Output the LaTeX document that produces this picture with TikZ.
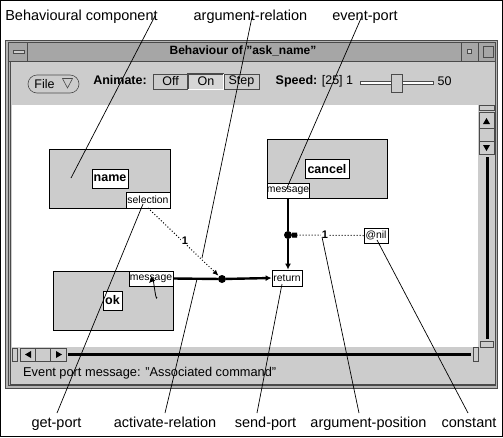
\documentclass[tikz,border=0pt]{standalone}
\usepackage{fontspec}
\setmainfont{Liberation Sans}
\usetikzlibrary{arrows.meta}
\definecolor{panel}{HTML}{CCCCCC}
\definecolor{titlegray}{HTML}{A6A6A6}
\definecolor{framegray}{HTML}{B4B4B4}
\definecolor{darkedge}{HTML}{4A4A4A}
\begin{document}
\begin{tikzpicture}[x=1pt,y=-1pt,
  lbl/.style={font=\fontsize{14.5}{16}\selectfont, inner sep=0pt, anchor=base},
  ann/.style={line width=0.7pt},
  comp/.style={draw=black, fill=panel, line width=1pt, inner sep=0pt},
  clabel/.style={draw=black, fill=white, line width=0.8pt, inner sep=0pt, font=\fontsize{12.5}{14}\bfseries\selectfont},
  port/.style={draw=black, fill=white, line width=0.8pt, inner sep=0pt, font=\fontsize{10.4}{12}\selectfont},
  flow/.style={line width=2.4pt},
  dots/.style={line width=1pt, dash pattern=on 1pt off 2pt},
  junction/.style={circle, fill=black, inner sep=0pt, minimum size=8pt},
  num/.style={font=\fontsize{11}{12}\bfseries\selectfont, inner sep=0.5pt, fill=white},
  sbox/.style={draw=darkedge, fill=panel, line width=0.6pt},
  btn/.style={draw=darkedge, fill=panel, line width=0.6pt, inner sep=0pt, minimum height=15pt, font=\fontsize{12.5}{14}\selectfont},
  tb/.style={font=\fontsize{12.5}{14}\selectfont, inner sep=0pt},
  tbb/.style={font=\fontsize{12.5}{14}\bfseries\selectfont, inner sep=0pt},
  tip/.style={-{Latex[length=6pt,width=6pt]}}
]
\useasboundingbox (0,0) rectangle (503,437);
\fill[white] (0,0) rectangle (503,437);
\draw[line width=1pt] (0.5,0.5) rectangle (502.5,436.5);

% window frame
\draw[fill=framegray, draw=darkedge, line width=0.8pt] (5.5,40.5) rectangle (497.5,388.5);
\draw[draw=darkedge, line width=0.6pt] (8.5,42.5) rectangle (495.5,385.5);
\draw[fill=panel, draw=darkedge, line width=0.6pt] (10.5,61) rectangle (495.5,384);
% title bar
\draw[fill=titlegray, draw=darkedge, line width=0.6pt] (8.5,42.5) rectangle (495.5,61);
\draw[fill=titlegray, draw=darkedge, line width=0.6pt] (8.5,42.5) rectangle (27,61);
\draw[fill=panel, draw=darkedge, line width=0.5pt] (13.5,50) rectangle (24,53);
\draw[fill=titlegray, draw=darkedge, line width=0.6pt] (461,42.5) rectangle (478.5,61);
\draw[fill=panel, draw=darkedge, line width=0.5pt] (467.5,49.5) rectangle (471.5,53.5);
\draw[fill=titlegray, draw=darkedge, line width=0.6pt] (478.5,42.5) rectangle (495.5,61);
\draw[fill=titlegray, draw=darkedge, line width=0.6pt] (483.5,46.5) rectangle (493.5,57.5);
\node[font=\fontsize{12}{14}\bfseries\selectfont, inner sep=0pt] (title) at (243,51) {Behaviour of "ask\_name"};

% toolbar
\node[draw=darkedge, fill=panel, line width=0.6pt, rounded corners=9pt, minimum width=51pt, minimum height=18pt, inner sep=0pt] (file) at (53.5,84) {};
\node[tb] (filet) at (44.5,84) {File};
\draw[darkedge, line width=0.6pt] (62.5,78.5) -- (72.5,78.5) -- (67.5,88) -- cycle;
\node[tbb] (anim) at (120,80.5) {Animate:};
\node[btn, minimum width=35pt] (off) at (170.5,81.5) {Off};
\node[btn, minimum width=36pt, fill=panel!80!white] (on) at (206,81.5) {On};
\draw[darkedge, line width=1.4pt] (on.south west) -- (on.north west) -- (on.north east);
\draw[white, line width=1pt] ([yshift=-0.5pt]on.south west) -- ([xshift=-0.5pt,yshift=-0.5pt]on.south east) -- ([xshift=-0.5pt]on.north east);
\node[btn, minimum width=35pt] (step) at (241.5,81.5) {Step};
\node[tbb] (speed) at (296.5,81) {Speed:};
\node[tb] (spv) at (337.5,81) {[25] 1};
\draw[darkedge, fill=white, line width=0.5pt] (360,81.5) rectangle (433,84.5);
\node[draw=darkedge, fill=panel, line width=0.6pt, minimum width=11pt, minimum height=18pt, inner sep=0pt] (knob) at (396.5,83) {};
\node[tb] (fifty) at (444.5,81) {50};

% canvas
\fill[white] (12,105) rectangle (478,347);

% vertical scrollbar
\draw[sbox] (479.5,105) rectangle (494,110);
\draw[sbox] (479.5,112.5) rectangle (494,128);
\draw[sbox] (479.5,128) rectangle (494,141);
\draw[sbox] (479.5,141) rectangle (494,154);
\fill (483,124) -- (490,124) -- (486.5,118) -- cycle;
\fill (483,145) -- (490,145) -- (486.5,151) -- cycle;
\draw[line width=3pt] (487.5,157) -- (487.5,339);
\draw[sbox] (480,341) rectangle (493,347);

% horizontal scrollbar
\draw[sbox] (12.5,348) rectangle (17.5,361);
\draw[sbox] (20,348) rectangle (35,361);
\draw[sbox] (35,348) rectangle (50,361);
\draw[sbox] (50,348) rectangle (66,361);
\fill (25,354.5) -- (31,351) -- (31,358) -- cycle;
\fill (62,354.5) -- (56,351) -- (56,358) -- cycle;
\draw[line width=3pt] (68,354.5) -- (471,354.5);
\draw[sbox] (473,347) rectangle (478.5,361);

% status
\node[tb, anchor=west, font=\fontsize{12.8}{14}\selectfont] (status) at (23,373) {Event port message: "Associated command"};

% components
\node[comp, minimum width=121pt, minimum height=59pt] (name) at (109.5,178.5) {};
\node[clabel, minimum width=36pt, minimum height=19pt] (namel) at (110,178.5) {name};
\node[port, minimum width=44pt, minimum height=16pt] (sel) at (148,200) {selection};

\node[comp, minimum width=120pt, minimum height=59pt] (cancel) at (327,168.5) {};
\node[clabel, minimum width=44pt, minimum height=19pt] (cancell) at (327,169) {cancel};
\node[port, minimum width=42pt, minimum height=15pt] (cmsg) at (288,190.5) {message};

\node[comp, minimum width=120pt, minimum height=59pt] (ok) at (113,300.5) {};
\node[clabel, minimum width=19pt, minimum height=19pt] (okl) at (112.5,300.5) {ok};
\node[port, minimum width=44pt, minimum height=15pt] (omsg) at (151,278.5) {message};

\node[port, minimum width=30pt, minimum height=16pt] (ret) at (287,278) {return};
\node[port, minimum width=24pt, minimum height=15pt] (nil) at (376,235.5) {@nil};

\node[junction] (J1) at (288,235) {};
\node[junction] (J2) at (222,279) {};

% flows
\draw[flow] (cmsg.south) -- (J1);
\draw[flow, tip] (J1) -- (J1 |- ret.north);
\draw[flow] (omsg.east) -- (J2);
\draw[flow, tip] (J2) -- (ret.west);

% argument relations
\coordinate (selA) at (148,208);
\draw[dots, -{Latex[length=6pt,width=5pt]}, shorten >=0.5pt] (selA) -- (J2);
\node[num] (n1) at (185,241) {1};
\draw[dots, -{Square[length=5pt,width=5pt]}] (nil.west) -- (J1);
\node[num] (n2) at (325,235) {1};

% cursor arrow
\coordinate (cur1) at (157,297);
\coordinate (cur2) at (149,283);
\draw[line width=0.8pt, -{Latex[length=6pt,width=6pt]}] (cur1) to[out=-100, in=45] (cur2);

% labels
\node[lbl] (tBC) at (81.5,20) {Behavioural component};
\node[lbl] (tAR) at (250.5,20) {argument-relation};
\node[lbl] (tEP) at (365,20) {event-port};
\node[lbl] (tGP) at (56.5,427) {get-port};
\node[lbl] (tAC) at (165,427) {activate-relation};
\node[lbl] (tSP) at (265.5,427) {send-port};
\node[lbl] (tAP) at (368.5,427) {argument-position};
\node[lbl] (tCO) at (469,427) {constant};

% annotation lines
\coordinate (aBC) at (155,16);  \coordinate (eBC) at (71,178);
\coordinate (aAR) at (252,17);  \coordinate (eAR) at (202,258);
\coordinate (aEP) at (362,16);  \coordinate (eEP) at (286,190);
\coordinate (aGP) at (57,413);  \coordinate (eGP) at (143,204);
\coordinate (aAC) at (165,413); \coordinate (eAC) at (197,279);
\coordinate (aSP) at (257,413); \coordinate (eSP) at (282,284);
\coordinate (aAP) at (359,413); \coordinate (eAP) at (322,237);
\coordinate (aCO) at (468,413); \coordinate (eCO) at (377,240);
\draw[ann] (aBC) -- (eBC);
\draw[ann] (aAR) -- (eAR);
\draw[ann] (aEP) -- (eEP);
\draw[ann] (aGP) -- (eGP);
\draw[ann] (aAC) -- (eAC);
\draw[ann] (aSP) -- (eSP);
\draw[ann] (aAP) -- (eAP);
\draw[ann] (aCO) -- (eCO);
\end{tikzpicture}
\end{document}
